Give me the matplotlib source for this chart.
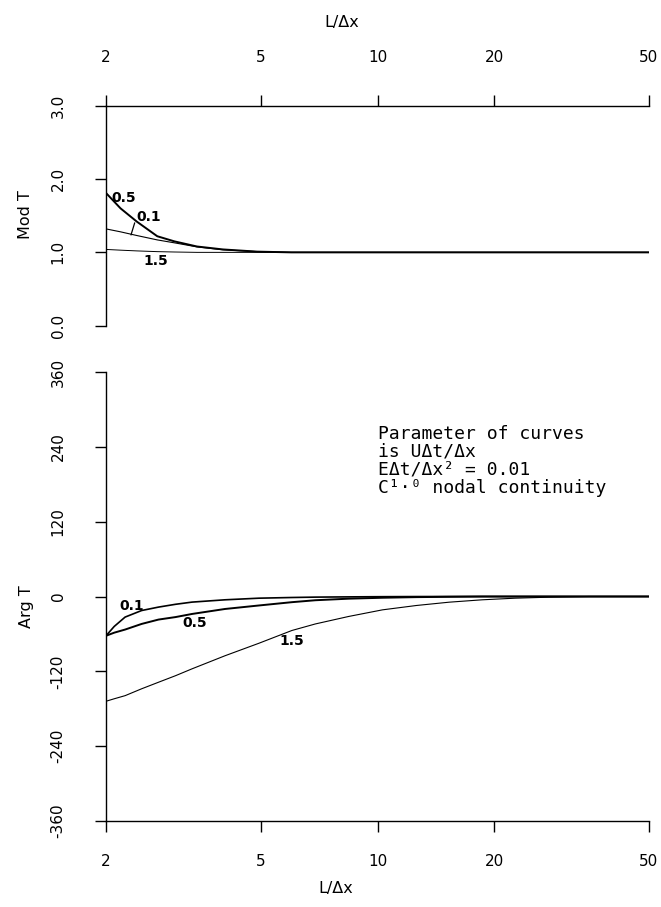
import matplotlib
matplotlib.use('Agg')
import matplotlib.pyplot as plt
import numpy as np

# Mod T (upper panel)
mod_x = [2.0, 2.18, 2.4, 2.71, 3.0, 3.43, 4.0, 4.9, 6.0, 10.0, 20.0, 50.0]
mod_05 = [1.81, 1.60, 1.42, 1.22, 1.15, 1.08, 1.04, 1.01, 1.0, 1.0, 1.0, 1.0]
mod_01 = [1.32, 1.28, 1.23, 1.17, 1.13, 1.075, 1.035, 1.01, 1.0, 1.0, 1.0, 1.0]
mod_15 = [1.04, 1.03, 1.02, 1.01, 1.005, 1.0, 1.0, 1.0, 1.0, 1.0, 1.0, 1.0]

# Arg T (lower panel), degrees
arg_x = [2.0, 2.1, 2.24, 2.47, 2.73, 3.02, 3.33, 4.05, 4.95, 6.02, 6.92, 8.43,
         10.3, 12.6, 15.3, 18.6, 22.6, 27.6, 35.0, 50.0]
arg_01 = [-63, -48, -33, -22.5, -17, -12.5, -9, -5.3, -2.7, -1.6, -1.0, -0.6,
          -0.3, -0.1, 0, 0, 0, 0, 0, 0]
arg_05 = [-63, -58, -53, -44, -37, -33, -28, -20, -14.4, -9.1, -6, -3.5,
          -2, -1, -0.5, 0, 0, 0, 0, 0]
arg_15 = [-168, -164, -159, -148, -137.5, -127, -116, -95, -75, -54.5, -44, -32,
          -21.4, -14.4, -9.1, -5.3, -2.7, -1.1, 0, 0]

x_ticks = [2, 5, 10, 20, 50]
mod_ticks = [0.0, 1.0, 2.0, 3.0]
arg_ticks = [-360, -240, -120, 0, 120, 240, 360]

note = 'Parameter of curves\nis U\u0394t/\u0394x\nE\u0394t/\u0394x\u00b2 = 0.01\nC\u00b9\u00b7\u2070 nodal continuity'

plt.rcParams['font.family'] = ['DejaVu Sans']
fig = plt.figure(figsize=(6.61, 9.07), dpi=100)

L, W = 106 / 661, 543 / 661
ax1 = fig.add_axes([L, 1 - 325.7 / 907, W, 220 / 907])
ax2 = fig.add_axes([L, 1 - 821 / 907, W, 449 / 907])

for ax in (ax1, ax2):
    ax.set_xscale('log')
    ax.set_xlim(2, 50)
    ax.set_xticks(x_ticks)
    ax.set_xticklabels([str(v) for v in x_ticks])
    ax.minorticks_off()
    ax.spines['right'].set_visible(False)
    for s in ax.spines.values():
        s.set_linewidth(1.0)
    ax.tick_params(axis='both', length=8, width=1.0, labelsize=11)
    ax.tick_params(axis='y', pad=21)

# upper panel: x axis on top
ax1.spines['bottom'].set_visible(False)
ax1.xaxis.set_ticks_position('top')
ax1.tick_params(axis='x', pad=21)
ax1.set_ylim(0, 3)
ax1.set_yticks(mod_ticks)
ax1.set_yticklabels(['%.1f' % v for v in mod_ticks], rotation=90, va='center')
ax1.plot(mod_x, mod_15, color='k', lw=0.7)
ax1.plot(mod_x, mod_01, color='k', lw=0.8)
ax1.plot(mod_x, mod_05, color='k', lw=1.4)
ax1.text(2.06, 1.74, '0.5', fontsize=10, fontweight='bold', va='center')
ax1.text(2.40, 1.48, '0.1', fontsize=10, fontweight='bold', va='center')
ax1.text(2.50, 0.88, '1.5', fontsize=10, fontweight='bold', va='center')
ax1.plot([2.37, 2.32], [1.40, 1.24], color='k', lw=0.9)

# lower panel
ax2.spines['top'].set_visible(False)
ax2.tick_params(axis='x', pad=16)
ax2.set_ylim(-360, 360)
ax2.set_yticks(arg_ticks)
ax2.set_yticklabels([str(v) for v in arg_ticks], rotation=90, va='center')
ax2.plot(arg_x, arg_15, color='k', lw=0.8)
ax2.plot(arg_x, arg_05, color='k', lw=1.4)
ax2.plot(arg_x, arg_01, color='k', lw=1.2)
ax2.text(2.17, -16, '0.1', fontsize=10, fontweight='bold', va='center')
ax2.text(3.14, -42.5, '0.5', fontsize=10, fontweight='bold', va='center')
ax2.text(5.58, -70.6, '1.5', fontsize=10, fontweight='bold', va='center')

fig.text(26 / 661, 1 - 215 / 907, 'Mod T', rotation=90, fontsize=11.5, ha='center', va='center')
fig.text(26 / 661, 1 - 607 / 907, 'Arg T', rotation=90, fontsize=11.5, ha='center', va='center')
fig.text(342 / 661, 1 - 22 / 907, 'L/\u0394x', fontsize=11.5, ha='center', va='center')
fig.text(336 / 661, 1 - 888 / 907, 'L/\u0394x', fontsize=11.5, ha='center', va='center')
fig.text(378 / 661, 1 - 425 / 907, note, family='DejaVu Sans Mono', fontsize=13,
         ha='left', va='top', linespacing=1.0)

fig.savefig('out.png', dpi=100)
